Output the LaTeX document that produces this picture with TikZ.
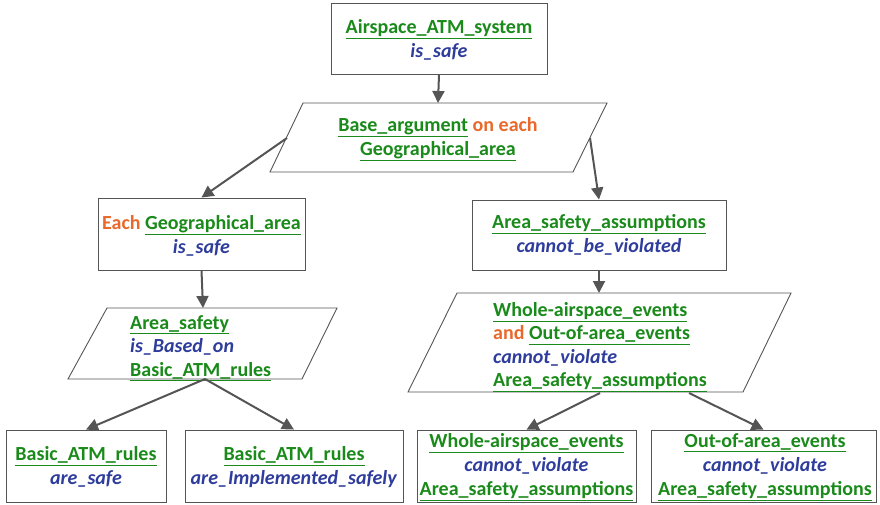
\documentclass[tikz,border=0pt]{standalone}
\usepackage{fontspec}
\setmainfont{Carlito}
\usetikzlibrary{arrows.meta}
\definecolor{tgreen}{HTML}{1A8A1A}
\definecolor{tblue}{HTML}{2E3C9C}
\definecolor{torange}{HTML}{E8692A}
\definecolor{tgray}{HTML}{555555}
\newcommand{\grn}[1]{\textcolor{tgreen}{\textbf{\underline{#1}}}}
\newcommand{\blu}[1]{\textcolor{tblue}{\textbf{\textit{#1}}}}
\newcommand{\orn}[1]{\textcolor{torange}{\textbf{#1}}}
\begin{document}
\begin{tikzpicture}[x=1pt,y=-1pt,
  font=\fontsize{20}{23.5}\selectfont,
  box/.style={draw=tgray,line width=0.9pt,rectangle,inner sep=0pt,align=center},
  txt/.style={inner sep=0pt,align=center},
  ltxt/.style={inner sep=0pt,align=left,anchor=north west},
  outline/.style={draw=tgray,line width=0.9pt},
  arr/.style={draw=tgray,line width=2pt,-{Triangle[length=12pt,width=12pt]}}]
\useasboundingbox (0,0) rectangle (880,504);
% top box
\node[box,minimum width=216pt,minimum height=71pt] (top) at (439,38.5) {};
\node[txt] (toptxt) at (439,40) {\grn{Airspace\_ATM\_system}\\\blu{is\_safe}};
% parallelogram 1
\coordinate (p1a) at (303,103); \coordinate (p1b) at (607,103);
\coordinate (p1c) at (573,172); \coordinate (p1d) at (270,172);
\draw[outline] (p1a) -- (p1b) -- (p1c) -- (p1d) -- cycle;
\node[txt] (p1) at (438,139) {\grn{Base\_argument} \orn{on each}\\\grn{Geographical\_area}};
\coordinate (p1top) at (438,103);
\coordinate (p1l) at (287,138);
\coordinate (p1r) at (590,138);
% left mid box
\node[box,minimum width=207pt,minimum height=72pt] (lb) at (201.5,234) {};
\node[txt] (lbtxt) at (201.5,236) {\orn{Each} \grn{Geographical\_area}\\\blu{is\_safe}};
% right mid box
\node[box,minimum width=254pt,minimum height=70pt] (rb) at (599,235) {};
\node[txt] (rbtxt) at (599,235) {\grn{Area\_safety\_assumptions}\\\blu{cannot\_be\_violated}};
% parallelogram 2
\coordinate (p2a) at (107,308); \coordinate (p2b) at (337,308);
\coordinate (p2c) at (302,379); \coordinate (p2d) at (68,379);
\draw[outline] (p2a) -- (p2b) -- (p2c) -- (p2d) -- cycle;
\node[ltxt] (p2) at (130,315) {\grn{Area\_safety}\\\blu{is\_Based\_on}\\\grn{Basic\_ATM\_rules}};
\coordinate (p2top) at (203,308);
\coordinate (p2bot) at (205,379);
% parallelogram 3
\coordinate (p3a) at (457,293); \coordinate (p3b) at (791,293);
\coordinate (p3c) at (743,392); \coordinate (p3d) at (408,392);
\draw[outline] (p3a) -- (p3b) -- (p3c) -- (p3d) -- cycle;
\node[ltxt] (p3) at (493,302) {\grn{Whole-airspace\_events}\\\orn{and} \grn{Out-of-area\_events}\\\blu{cannot\_violate}\\\grn{Area\_safety\_assumptions}};
\coordinate (p3top) at (599,293);
\coordinate (p3bl) at (600,393);
\coordinate (p3br) at (689,393);
% bottom boxes
\node[box,minimum width=160pt,minimum height=72pt] (b1) at (86,466) {};
\node[txt] (b1txt) at (86,467) {\grn{Basic\_ATM\_rules}\\\blu{are\_safe}};
\node[box,minimum width=218pt,minimum height=72pt] (b2) at (294,466) {};
\node[txt] (b2txt) at (294,467) {\grn{Basic\_ATM\_rules}\\\blu{are\_Implemented\_safely}};
\node[box,minimum width=219pt,minimum height=72pt] (b3) at (526.5,466) {};
\node[txt,font=\fontsize{20}{24}\selectfont] (b3txt) at (526.5,467) {\grn{Whole-airspace\_events}\\\blu{cannot\_violate}\\\grn{Area\_safety\_assumptions}};
\node[box,minimum width=225pt,minimum height=72pt] (b4) at (763.5,466) {};
\node[txt,font=\fontsize{20}{24}\selectfont] (b4txt) at (765,467) {\grn{Out-of-area\_events}\\\blu{cannot\_violate}\\\grn{Area\_safety\_assumptions}};
% connectors
\draw[arr] (top.south) -- (p1top);
\draw[arr] (p1l) -- (lb.north);
\draw[arr] (p1r) -- (rb.north);
\draw[arr] (lb.south) -- (p2top);
\draw[arr] (rb.south) -- (p3top);
\draw[arr] (p2bot) -- (b1.north);
\draw[arr] (p2bot) -- (b2.north);
\draw[arr] (p3bl) -- (b3.north);
\draw[arr] (p3br) -- (b4.north);
\end{tikzpicture}
\end{document}
